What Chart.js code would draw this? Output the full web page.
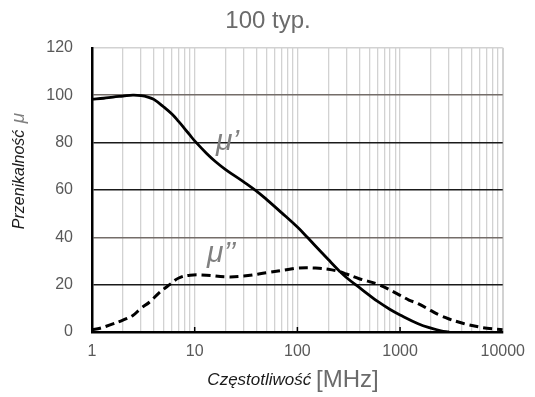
<!DOCTYPE html>
<html>
<head>
<meta charset="utf-8">
<script src="https://cdn.jsdelivr.net/npm/chart.js@4"></script>
<style>
  html, body { margin: 0; padding: 0; background: #fff; }
  #wrap { width: 535px; height: 397px; }
</style>
</head>
<body>
<div id="wrap"><canvas id="chart" width="535" height="397"></canvas></div>
<script>
// dane
const freqReal = [1, 1.3, 1.6, 2, 2.5, 3, 3.5, 4, 5, 6, 7, 8, 9, 10, 13, 16, 20, 30, 40, 50, 70, 100, 125, 150, 200, 256, 300, 400, 500, 600, 800, 1000, 1500, 2000, 2500, 3000];
const muReal = [98.3, 98.7, 99.2, 99.6, 100, 99.8, 99.2, 98.2, 95, 92, 88.8, 85.8, 83.1, 80.7, 75.5, 71.9, 68.6, 63.4, 59.5, 56, 50.4, 44.3, 40, 36.3, 30.6, 25.8, 23, 18.8, 15.6, 13, 9.5, 7.2, 3.5, 1.6, 0.5, 0];

const freqImag = [1, 1.2, 1.5, 2, 2.5, 3, 3.65, 4.5, 5.7, 7, 9, 13, 20, 30, 50, 84, 100, 150, 200, 256, 300, 400, 625, 1000, 1220, 1500, 2000, 2400, 3000, 4000, 4700, 7000, 10000];
const muImag = [1, 1.6, 3, 5, 7, 10, 12.7, 16.5, 20, 22.8, 24, 24, 23.3, 23.6, 25, 26.5, 27, 27, 26.5, 25.5, 24.5, 22.5, 19.9, 15.5, 13.5, 12, 9, 7.2, 5.5, 3.8, 3, 1.6, 1];

const xTicks = [];
for (let e = 0; e < 4; e++) {
  for (let s = 1; s < 10; s++) xTicks.push(s * Math.pow(10, e));
}
xTicks.push(10000);
const yTicks = [0, 20, 40, 60, 80, 100, 120];

const toPoints = (xs, ys) => xs.map((x, i) => ({ x: x, y: ys[i] }));

// napisy osi, etykiety krzywych i znaczniki dekad
const extrasPlugin = {
  id: "extras",
  afterDraw(chart) {
    const ctx = chart.ctx;
    const xs = chart.scales.x;
    const area = chart.chartArea;

    // znaczniki dekad przy osi X
    ctx.save();
    ctx.strokeStyle = "#000";
    ctx.lineWidth = 1.5;
    [10, 100, 1000].forEach((v) => {
      const px = xs.getPixelForValue(v);
      ctx.beginPath();
      ctx.moveTo(px, area.bottom);
      ctx.lineTo(px, area.bottom - 5);
      ctx.stroke();
    });
    ctx.restore();

    // tytuł osi X
    ctx.save();
    ctx.textBaseline = "alphabetic";
    ctx.textAlign = "left";
    const t1 = "Częstotliwość ";
    ctx.font = "italic 17px 'Liberation Sans'";
    const w1 = ctx.measureText(t1).width;
    ctx.font = "24px 'Liberation Sans'";
    const w2 = ctx.measureText("[MHz]").width;
    const sx = 293 - (w1 + w2) / 2;
    ctx.font = "italic 17px 'Liberation Sans'";
    ctx.fillStyle = "#1a1a1a";
    ctx.fillText(t1, sx, 385);
    ctx.font = "24px 'Liberation Sans'";
    ctx.fillStyle = "#6b6b6b";
    ctx.fillText("[MHz]", sx + w1, 387);
    ctx.restore();

    // tytuł osi Y
    ctx.save();
    ctx.translate(24, 172);
    ctx.rotate(-Math.PI / 2);
    ctx.textBaseline = "alphabetic";
    ctx.textAlign = "left";
    ctx.font = "italic 16px 'Liberation Sans'";
    const y1 = "Przenikalność ";
    const wy1 = ctx.measureText(y1).width;
    ctx.font = "italic 19px 'Liberation Sans'";
    const wy2 = ctx.measureText("μ").width;
    const sy = -(wy1 + wy2) / 2;
    ctx.font = "italic 16px 'Liberation Sans'";
    ctx.fillStyle = "#1a1a1a";
    ctx.fillText(y1, sy, 0);
    ctx.font = "italic 19px 'Liberation Sans'";
    ctx.fillStyle = "#7f7f7f";
    ctx.fillText("μ", sy + wy1 + 2, 0);
    ctx.restore();

    // etykiety krzywych
    ctx.save();
    ctx.font = "italic 30px 'Liberation Sans'";
    ctx.fillStyle = "#808080";
    ctx.textAlign = "left";
    ctx.textBaseline = "alphabetic";
    ctx.fillText("μ’", 216, 150);
    ctx.fillText("μ’’", 207, 262);
    ctx.restore();
  },
};

new Chart(document.getElementById("chart").getContext("2d"), {
  type: "line",
  data: {
    datasets: [
      {
        label: "μ'",
        data: toPoints(freqReal, muReal),
        borderColor: "#000",
        borderWidth: 2.8,
        pointRadius: 0,
        fill: false,
        tension: 0.4,
      },
      {
        label: "μ''",
        data: toPoints(freqImag, muImag),
        borderColor: "#000",
        borderWidth: 3,
        borderDash: [9, 5],
        pointRadius: 0,
        fill: false,
        tension: 0.4,
      },
    ],
  },
  options: {
    responsive: false,
    animation: false,
    devicePixelRatio: 1,
    layout: { padding: { left: 32, right: 31, top: 0, bottom: 0 } },
    plugins: {
      legend: { display: false },
      tooltip: { enabled: false },
      title: {
        display: true,
        text: "100 typ.",
        color: "#6b6b6b",
        font: { family: "'Liberation Sans'", size: 24, weight: "normal" },
        padding: { top: 7, bottom: 12 },
      },
    },
    scales: {
      x: {
        type: "logarithmic",
        min: 1,
        max: 10000,
        afterBuildTicks: (scale) => {
          scale.ticks = xTicks.map((v) => ({ value: v }));
        },
        afterFit: (scale) => {
          scale.height = 65;
        },
        ticks: {
          autoSkip: false,
          maxRotation: 0,
          padding: 10,
          color: "#595959",
          font: { family: "'Liberation Sans'", size: 16 },
          callback: (v) => (Number.isInteger(Math.log10(v)) ? String(v) : ""),
        },
        grid: {
          color: "#d2d2d2",
          lineWidth: (c) => (c.tick && c.tick.value === 10000 ? 2 : 1.3),
          drawTicks: false,
        },
        border: { color: "#000", width: 2.5 },
      },
      y: {
        min: 0,
        max: 120,
        afterBuildTicks: (scale) => {
          scale.ticks = yTicks.map((v) => ({ value: v }));
        },
        afterFit: (scale) => {
          scale.width = 60;
        },
        ticks: {
          padding: 19,
          color: "#595959",
          font: { family: "'Liberation Sans'", size: 16 },
        },
        grid: {
          drawTicks: false,
          lineWidth: 1.4,
          color: (c) => {
            const v = c.tick ? c.tick.value : null;
            if (v === 120) return "#d2d2d2";
            if (v === 0) return "rgba(0,0,0,0)";
            if (v === 100 || v === 40) return "#746d69";
            return "#1a1a1a";
          },
        },
        border: { color: "#000", width: 2.5 },
      },
    },
  },
  plugins: [extrasPlugin],
});
</script>
</body>
</html>
